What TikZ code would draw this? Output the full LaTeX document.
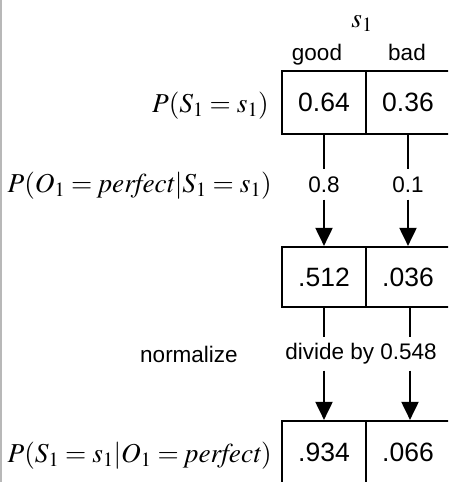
\documentclass[tikz,border=0pt]{standalone}
\usepackage{mathptmx}
\usepackage[no-math]{fontspec}
\setmainfont{Liberation Sans}
\usetikzlibrary{arrows.meta}
\tikzset{
  cell/.style={draw, line width=2.2pt, minimum width=84pt, minimum height=63pt, inner sep=0pt, font=\fontsize{26.5}{30}\selectfont},
  lbl/.style={font=\fontsize{22.5}{26}\selectfont, inner sep=0pt},
  mlbl/.style={font=\fontsize{27.3}{31}\selectfont, inner sep=0pt, anchor=base east},
  conn/.style={line width=2pt},
  arr/.style={line width=2pt, -{Triangle[length=18pt,width=17pt]}},
}
\begin{document}
\begin{tikzpicture}[x=1pt,y=-1pt]
\useasboundingbox (0,0) rectangle (448,482);
\clip (0,0) rectangle (448,482);
\fill[black!28] (0,0) rectangle (2,482);
% header
\node[mlbl, anchor=base] (s1) at (362,27) {$s_1$};
\node[lbl, anchor=base] (good) at (317,60) {good};
\node[lbl, anchor=base] (bad) at (407,60) {bad};
% row 1
\node[cell] (c1a) at (324,102.5) {0.64};
\node[cell] (c1b) at (408,102.5) {0.36};
\node[mlbl] (m1) at (269,112) {$P(S_1 = s_1)$};
% row 2
\node[cell, minimum height=60pt] (c2a) at (324,277) {.512};
\node[cell, minimum height=60pt] (c2b) at (408,277) {.036};
\node[mlbl] (m2) at (272,192) {$P(O_1 = \mathit{perfect}|S_1 = s_1)$};
% row 3
\node[cell] (c3a) at (324,452.5) {.934};
\node[cell] (c3b) at (408,452.5) {.066};
\node[mlbl] (m3) at (272,462) {$P(S_1 = s_1|O_1 = \mathit{perfect})$};
% multiply labels
\node[lbl, inner ysep=7pt] (p8) at (324,184.5) {0.8};
\node[lbl, inner ysep=7pt] (p1) at (408,184.5) {0.1};
\draw[conn] (c1a.south) -- (p8.north);
\draw[arr] (p8.south) -- (c2a.north);
\draw[conn] (c1b.south) -- (p1.north);
\draw[arr] (p1.south) -- (c2b.north);
% normalize
\node[lbl] (norm) at (189,354) {normalize};
\node[lbl, inner ysep=6pt] (div) at (361,354) {divide by 0.548};
\draw[conn] (c2a.south) -- (c2a.south |- div.north);
\draw[arr] (c2a.south |- div.south) -- (c3a.north);
\draw[conn] ([xshift=2pt]c2b.south) -- ([xshift=2pt]c2b.south |- div.north);
\draw[arr] ([xshift=2pt]c2b.south |- div.south) -- ([xshift=2pt]c3b.north);
\end{tikzpicture}
\end{document}
